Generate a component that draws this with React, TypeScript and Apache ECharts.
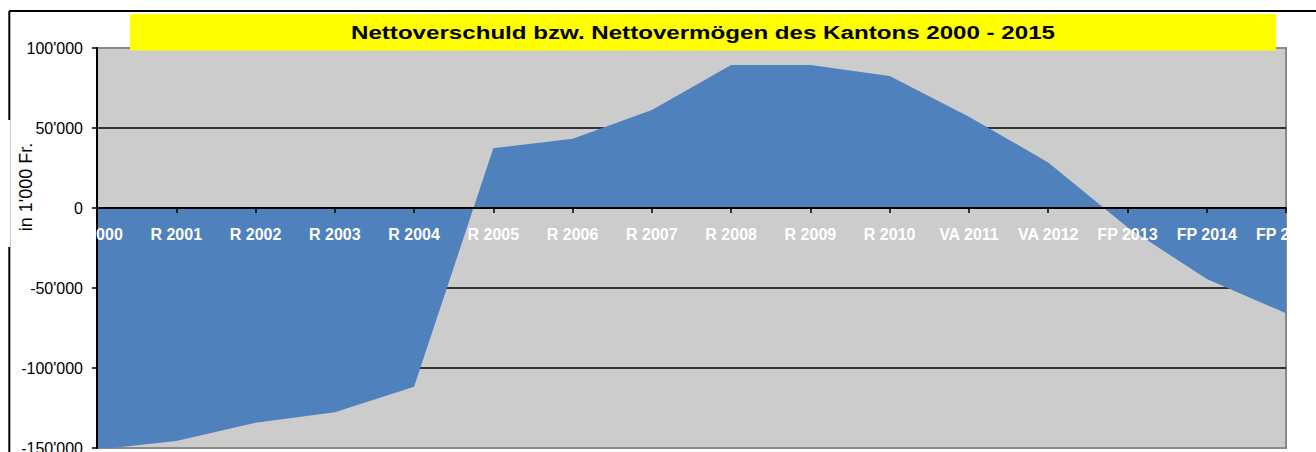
import React, { useEffect, useRef } from "react";
import * as echarts from "echarts";

const categories = [
  "R 2000", "R 2001", "R 2002", "R 2003", "R 2004", "R 2005", "R 2006", "R 2007",
  "R 2008", "R 2009", "R 2010", "VA 2011", "VA 2012", "FP 2013", "FP 2014", "FP 2015",
];
const netValues = [
  -151000, -145600, -134200, -127700, -111700, 37300, 43300, 61300,
  89400, 89400, 82500, 57100, 28500, -12000, -44400, -65800,
];
const yMin = -150000;
const yMax = 100000;
const yInterval = 50000;

const titleText = "Nettoverschuld bzw. Nettovermögen des Kantons 2000 - 2015";
const yAxisTitle = "in 1'000 Fr.";

const FONT = '"Liberation Sans", Arial, sans-serif';

const GRID_TOP = 48;
const GRID_BOTTOM = 4;
const GRID_HEIGHT = 452 - GRID_TOP - GRID_BOTTOM;
// distance from grid bottom up to the zero line
const ZERO_OFFSET = -GRID_HEIGHT * ((0 - yMin) / (yMax - yMin));

function fmt(v: number): string {
  const s = Math.abs(v).toString().replace(/\B(?=(\d{3})+(?!\d))/g, "'");
  return (v < 0 ? "-" : "") + s;
}

export default function App() {
  const ref = useRef<HTMLDivElement>(null);
  useEffect(() => {
    if (!ref.current) return;
    const chart = echarts.init(ref.current, undefined, { renderer: "svg" });
    chart.setOption({
      animation: false,
      backgroundColor: "#ffffff",
      grid: {
        left: 97,
        right: 30,
        top: GRID_TOP,
        bottom: GRID_BOTTOM,
        outerBoundsMode: "none",
        containLabel: false,
        show: true,
        backgroundColor: "#CCCCCC",
        borderColor: "#8A8A8A",
        borderWidth: 2,
      },
      xAxis: {
        type: "category",
        data: categories,
        boundaryGap: false,
        position: "bottom",
        offset: ZERO_OFFSET,
        z: 5,
        axisLine: { show: true, onZero: false, lineStyle: { color: "#000", width: 2 } },
        axisTick: { show: true, length: 5, lineStyle: { color: "#000", width: 1.5 } },
        axisLabel: {
          show: true,
          interval: 0,
          color: "#ffffff",
          fontFamily: FONT,
          fontSize: 16,
          fontWeight: "bold",
          margin: 18,
          hideOverlap: false,
          showMinLabel: true,
          showMaxLabel: true,
        },
        splitLine: { show: false },
      },
      yAxis: [
        {
          type: "value",
          min: yMin,
          max: yMax,
          interval: yInterval,
          z: 5,
          axisLine: { show: true, lineStyle: { color: "#000", width: 2 } },
          axisTick: { show: true, length: 5, lineStyle: { color: "#000", width: 1.5 } },
          axisLabel: {
            color: "#000",
            fontFamily: FONT,
            fontSize: 16,
            margin: 14,
            formatter: (v: number) => fmt(v),
          },
          splitLine: { show: false },
        },
        {
          type: "value",
          min: yMin,
          max: yMax,
          interval: yInterval,
          z: 0,
          position: "left",
          axisLine: { show: false },
          axisTick: { show: false },
          axisLabel: { show: false },
          splitLine: {
            show: true,
            showMinLine: false,
            showMaxLine: false,
            lineStyle: { color: "#000", width: 1.5 },
          },
        },
      ],
      series: [
        {
          type: "line",
          data: netValues,
          yAxisIndex: 0,
          showSymbol: false,
          symbol: "none",
          z: 2,
          lineStyle: { width: 0, color: "#4F81BD" },
          itemStyle: { color: "#4F81BD" },
          areaStyle: { color: "#4F81BD", opacity: 1 },
        },
      ],
      graphic: [
        { type: "line", z: 50, shape: { x1: 9, y1: 11, x2: 1316, y2: 11 }, style: { stroke: "#000", lineWidth: 2 } },
        { type: "line", z: 50, shape: { x1: 9.3, y1: 11, x2: 9.3, y2: 120 }, style: { stroke: "#000", lineWidth: 2 } },
        { type: "line", z: 50, shape: { x1: 9.3, y1: 247, x2: 9.3, y2: 452 }, style: { stroke: "#000", lineWidth: 2 } },
        { type: "line", z: 50, shape: { x1: 10.5, y1: 120, x2: 10.5, y2: 247 }, style: { stroke: "#C8C8C8", lineWidth: 1 } },
        { type: "rect", z: 60, shape: { x: 40, y: 220, width: 56, height: 30 }, style: { fill: "#ffffff" } },
        { type: "rect", z: 60, shape: { x: 1288, y: 220, width: 28, height: 30 }, style: { fill: "#ffffff" } },
        { type: "rect", z: 70, shape: { x: 130, y: 14, width: 1146, height: 36.5 }, style: { fill: "#FFFF00" } },
        {
          type: "text",
          z: 71,
          x: 703,
          y: 32,
          scaleX: 1.27,
          style: {
            text: titleText,
            fontFamily: FONT,
            fontSize: 19,
            fontWeight: "bold",
            fill: "#000",
            align: "center",
            verticalAlign: "middle",
          },
        },
        {
          type: "text",
          z: 71,
          x: 26,
          y: 187,
          rotation: Math.PI / 2,
          style: {
            text: yAxisTitle,
            fontFamily: FONT,
            fontSize: 18,
            fill: "#000",
            align: "center",
            verticalAlign: "middle",
          },
        },
      ],
    });
    return () => chart.dispose();
  }, []);
  return (
    <div
      ref={ref}
      style={{ position: "absolute", left: 0, top: 0, width: 1316, height: 452, background: "#fff" }}
    />
  );
}
